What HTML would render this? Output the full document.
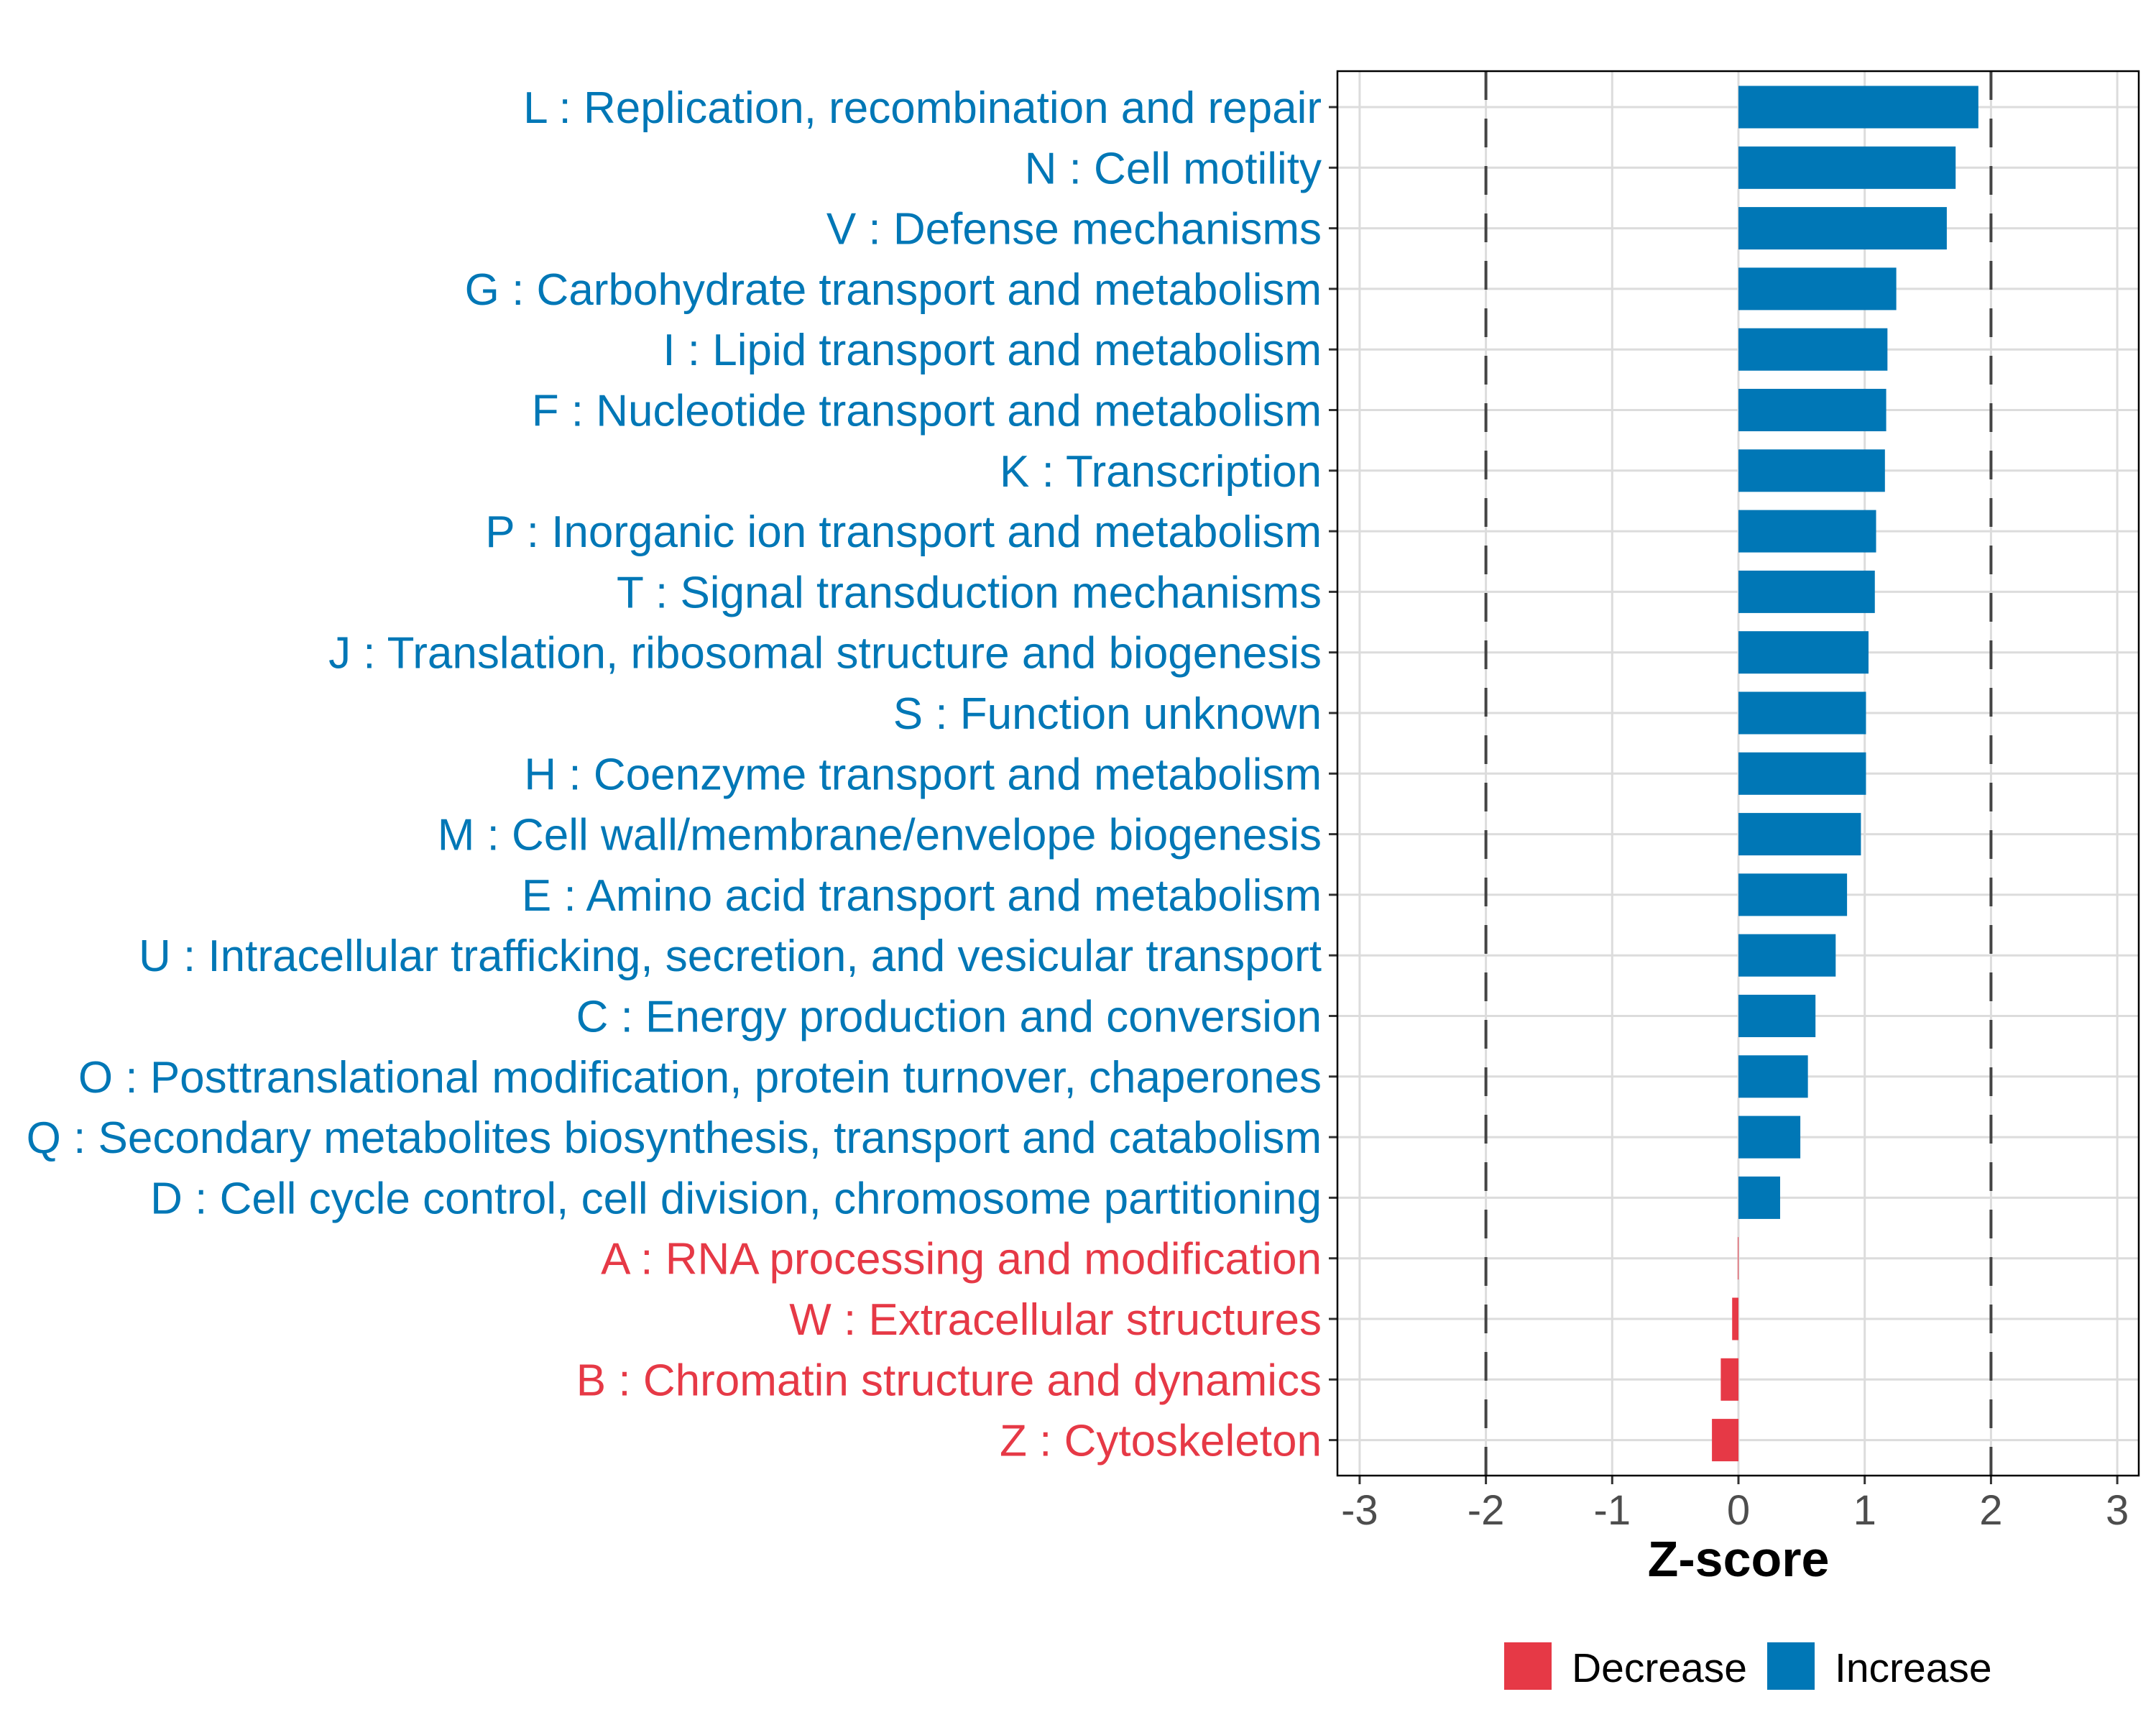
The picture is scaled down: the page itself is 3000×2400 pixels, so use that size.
<!DOCTYPE html>
<html><head><meta charset="utf-8"><style>
html,body{margin:0;padding:0;background:#fff;}
svg{display:block;font-family:"Liberation Sans",Arial,sans-serif;}
</style></head><body>
<svg id="chart" width="3000" height="2400" viewBox="0 0 3000 2400" xmlns="http://www.w3.org/2000/svg">
<rect x="0" y="0" width="3000" height="2400" fill="#fff"/>
<g id="grid"></g>
<g id="bars"></g>
<g id="ylabels"></g>
<g id="xaxis"></g>
<rect x="1861" y="99" width="1115" height="1954" fill="none" stroke="#000" stroke-width="2.5"/>
<text x="2419" y="2193" text-anchor="middle" font-size="70" font-weight="bold" fill="#000">Z-score</text>
<g>
<g>
<rect x="2093" y="2285" width="66" height="66" fill="#E63946"/>
<text x="2187" y="2340" font-size="57" fill="#000">Decrease</text>
</g>
<g>
<rect x="2459" y="2285" width="66" height="66" fill="#0077B6"/>
<text x="2553" y="2340" font-size="57" fill="#000">Increase</text>
</g>
</g>
</svg>
<script>
const categories = ["L : Replication, recombination and repair","N : Cell motility","V : Defense mechanisms","G : Carbohydrate transport and metabolism","I : Lipid transport and metabolism","F : Nucleotide transport and metabolism","K : Transcription","P : Inorganic ion transport and metabolism","T : Signal transduction mechanisms","J : Translation, ribosomal structure and biogenesis","S : Function unknown","H : Coenzyme transport and metabolism","M : Cell wall/membrane/envelope biogenesis","E : Amino acid transport and metabolism","U : Intracellular trafficking, secretion, and vesicular transport","C : Energy production and conversion","O : Posttranslational modification, protein turnover, chaperones","Q : Secondary metabolites biosynthesis, transport and catabolism","D : Cell cycle control, cell division, chromosome partitioning","A : RNA processing and modification","W : Extracellular structures","B : Chromatin structure and dynamics","Z : Cytoskeleton"];
const zscores = [1.90,1.72,1.65,1.25,1.18,1.17,1.16,1.09,1.08,1.03,1.01,1.01,0.97,0.86,0.77,0.61,0.55,0.49,0.33,-0.005,-0.05,-0.14,-0.21];
const xTicks = [-3,-2,-1,0,1,2,3];
const xTickLabels = ["-3","-2","-1","0","1","2","3"];
const thresholds = [-2,2];

const NS="http://www.w3.org/2000/svg";
const X0=2419, XU=175.7, Y0=149, YS=84.3, PT=99, PB=2053, PL=1861, PR=2976;
const xs=v=>X0+v*XU;
const ys=i=>Y0+i*YS;
function mk(tag,attrs,parent){const e=document.createElementNS(NS,tag);for(const k in attrs)e.setAttribute(k,attrs[k]);parent.appendChild(e);return e;}
const grid=document.getElementById('grid'),bars=document.getElementById('bars'),yl=document.getElementById('ylabels'),xa=document.getElementById('xaxis');
xTicks.forEach((t,i)=>{
  const l=mk('line',{x1:xs(t),x2:xs(t),y1:PT,y2:PB,stroke:'#dcdcdc','stroke-width':3},grid);
  
  
  const tk=mk('line',{x1:xs(t),x2:xs(t),y1:PB,y2:PB+12,stroke:'#333','stroke-width':3},xa);
  
  
  const tx=mk('text',{x:xs(t),y:PB+68,'text-anchor':'middle','font-size':58,fill:'#4d4d4d'},xa);
  tx.textContent=xTickLabels[i];
  
  
});
categories.forEach((c,i)=>{
  const l=mk('line',{x1:PL,x2:PR,y1:ys(i),y2:ys(i),stroke:'#dcdcdc','stroke-width':3},grid);
  
  
});
thresholds.forEach(t=>{
  const l=mk('line',{x1:xs(t),x2:xs(t),y1:PT,y2:PB,stroke:'#444','stroke-width':4,'stroke-dasharray':'40 26'},grid);
  
  
});
const bh=YS*0.7;
categories.forEach((c,i)=>{
  const v=zscores[i];
  const col=v<0?'#E63946':'#0077B6';
  const r=mk('rect',{x:Math.min(xs(0),xs(v)),y:ys(i)-bh/2,width:Math.max(Math.abs(xs(v)-xs(0)),1),height:bh,fill:col},bars);
  
  
  const tk=mk('line',{x1:PL-12,x2:PL,y1:ys(i),y2:ys(i),stroke:'#333','stroke-width':3},yl);
  
  
  const t=mk('text',{x:1839,y:ys(i)+22,'text-anchor':'end','font-size':62,fill:col},yl);
  t.textContent=c;
  
  
});
</script>
</body></html>
